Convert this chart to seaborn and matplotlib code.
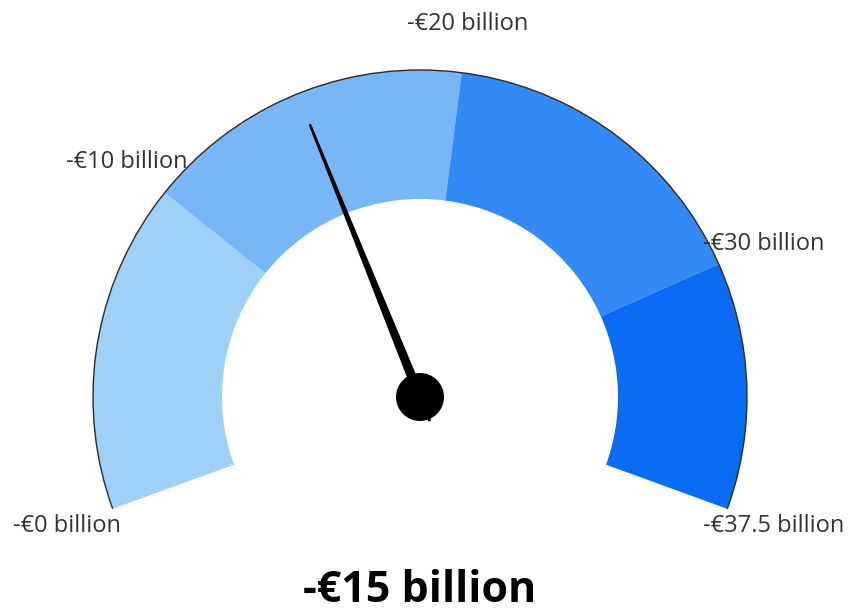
import numpy as np
import matplotlib
matplotlib.use("Agg")
import matplotlib.pyplot as plt
from matplotlib.patches import Wedge, Arc, Circle, Polygon
import seaborn as sns

# gauge data
band_edges = [0, 10, 20, 30, 37.5]
band_colors = ["#9fd0f7", "#78b6f6", "#3389f6", "#0a6cf4"]
tick_values = [0, 10, 20, 30, 37.5]
tick_labels = ["-€0 billion", "-€10 billion", "-€20 billion", "-€30 billion", "-€37.5 billion"]
needle_value = 15
value_label = "-€15 billion"

g_min, g_max = 0, 37.5
start_angle, end_angle = 200, -20   # degrees, gauge sweeps 220°
r_outer, r_inner = 327, 198


def to_angle(v):
    return start_angle - (v - g_min) / (g_max - g_min) * (start_angle - end_angle)


sns.set_theme(style="white")
plt.rcParams['font.family'] = ['Open Sans', 'DejaVu Sans']

fig = plt.figure(figsize=(8.51, 6.13), dpi=100)
ax = fig.add_axes([0, 0, 1, 1])
ax.set_xlim(-420, 431)
ax.set_ylim(-216, 397)
ax.set_aspect('equal')
ax.axis('off')

# coloured bands
for lo, hi, col in zip(band_edges[:-1], band_edges[1:], band_colors):
    ax.add_patch(Wedge((0, 0), r_outer, to_angle(hi), to_angle(lo),
                       width=r_outer - r_inner, facecolor=col, edgecolor='none'))

# thin outline along outer edge
ax.add_patch(Arc((0, 0), 2 * r_outer, 2 * r_outer, theta1=end_angle, theta2=start_angle,
                 color='#2a2a2a', lw=1.0))

# tick labels
r_lab = 376
for v, lab in zip(tick_values, tick_labels):
    a = np.deg2rad(to_angle(v))
    ax.text(r_lab * np.cos(a), r_lab * np.sin(a), lab, ha='center', va='center',
            fontsize=17, color='#333333')

# needle
a = np.deg2rad(to_angle(needle_value))
d = np.array([np.cos(a), np.sin(a)])
n = np.array([-d[1], d[0]])
tip = d * 294
pts = [tip + n * 1, -d * 26 + n * 1.5, -d * 26 - n * 1.5, tip - n * 1]
base = [tip + n * 1.2, n * 5, -d * 8, -n * 5, tip - n * 1.2]
ax.add_patch(Polygon(pts, closed=True, facecolor='black', edgecolor='none'))
ax.add_patch(Polygon(base, closed=True, facecolor='black', edgecolor='none'))
ax.add_patch(Circle((0, 0), 24, facecolor='black', edgecolor='none'))

# value label
ax.text(0, -193, value_label, ha='center', va='center', fontsize=31,
        fontweight='bold', color='black')

fig.savefig("out.png", dpi=100)
